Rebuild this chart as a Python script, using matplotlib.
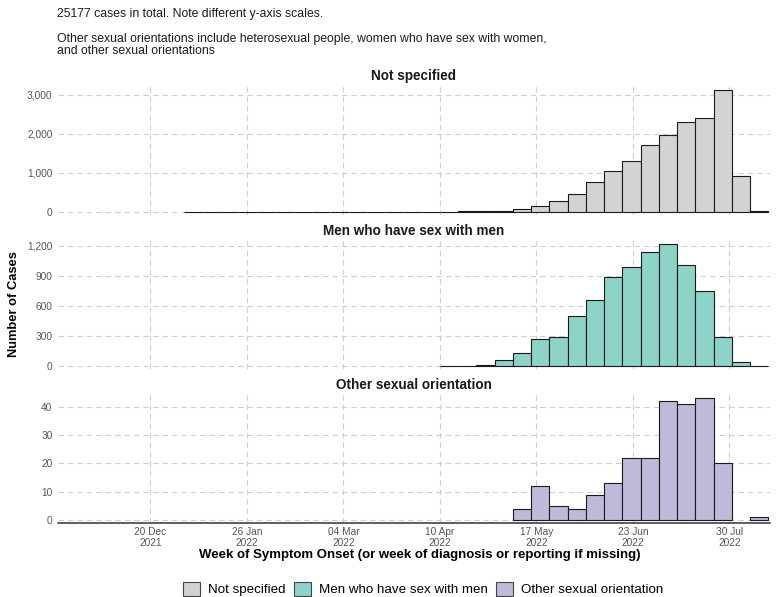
import numpy as np
import pandas as pd
import matplotlib
matplotlib.use('Agg')
import matplotlib.pyplot as plt
import matplotlib.dates as mdates
from matplotlib.patches import Patch

plt.rcParams['font.family'] = ['Liberation Sans', 'DejaVu Sans']

# ---------------- data ----------------
week_start = pd.date_range('2022-01-02', periods=32, freq='7D')  # Sunday-starting weeks

not_specified = [1, 0, 1, 0, 0, 1, 0, 0, 1, 0, 1, 0, 1, 2,
                 3, 5, 10, 25, 80, 150, 285, 450, 760, 1050, 1310, 1705,
                 1975, 2310, 2400, 3130, 925, 20]
msm = [None] * 14 + [1, 3, 10, 57, 133, 266, 289, 502, 661, 884, 987, 1140,
                     1216, 1007, 745, 286, 43, 1]
other = [None] * 18 + [4, 12, 5, 4, 9, 13, 22, 22, 42, 41, 43, 20, None, 1]

series_names = ['Not specified', 'Men who have sex with men', 'Other sexual orientation']
series_values = [not_specified, msm, other]
series_colors = ['#d3d3d3', '#8dd3c7', '#bebada']
y_ticks = [[0, 1000, 2000, 3000], [0, 300, 600, 900, 1200], [0, 10, 20, 30, 40]]
y_limits = [(-85, 3257), (-30, 1267), (-1.06, 44.84)]

x_tick_dates = ['2021-12-20', '2022-01-26', '2022-03-04', '2022-04-10',
                '2022-05-17', '2022-06-23', '2022-07-30']
x_limits = ('2021-11-14 14:00', '2022-08-14 14:00')

subtitle1 = '25177 cases in total. Note different y-axis scales.'
subtitle2 = 'Other sexual orientations include heterosexual people, women who have sex with women,'
subtitle3 = 'and other sexual orientations'

# ---------------- figure ----------------
W, H = 779, 597
fig = plt.figure(figsize=(W / 100, H / 100), dpi=100)

left_px, right_px = 58, 770
panels_px = [(85, 215), (239, 369), (393, 523)]
title_y_px = [76, 231, 385]

grid_kw = dict(color='#cfcfcf', linestyle=(0, (5, 3.5)), linewidth=0.8)
tick_color = '#555555'

xt = [mdates.date2num(pd.Timestamp(d)) for d in x_tick_dates]
xl = [mdates.date2num(pd.Timestamp(d)) for d in x_limits]

for i, (name, vals, col) in enumerate(zip(series_names, series_values, series_colors)):
    top, bot = panels_px[i]
    ax = fig.add_axes([left_px / W, 1 - bot / H, (right_px - left_px) / W, (bot - top) / H])
    xs = [mdates.date2num(d) for d, v in zip(week_start, vals) if v is not None]
    hs = [v for v in vals if v is not None]
    ax.bar(xs, hs, width=7, align='edge', color=col, edgecolor='#1a1a1a',
           linewidth=0.8, zorder=3)
    ax.set_xlim(*xl)
    ax.set_ylim(*y_limits[i])
    ax.set_yticks(y_ticks[i])
    ax.set_yticklabels([f'{v:,}' for v in y_ticks[i]])
    ax.set_xticks(xt)
    ax.grid(True, which='major', **grid_kw)
    ax.set_axisbelow(True)
    for s in ax.spines.values():
        s.set_visible(False)
    ax.tick_params(axis='both', length=0, labelsize=7.3, labelcolor=tick_color, pad=4)
    if i == 2:
        ax.set_xticklabels([pd.Timestamp(d).strftime('%d %b\n%Y') for d in x_tick_dates],
                           linespacing=1.15)
        ax.tick_params(axis='x', pad=3)
        ax.spines['bottom'].set_visible(True)
        ax.spines['bottom'].set_color('#333333')
        ax.spines['bottom'].set_linewidth(1.1)
    else:
        ax.set_xticklabels([])
    fig.text(414 / W, 1 - title_y_px[i] / H, name, ha='center', va='center',
             fontsize=9.75, fontweight='bold', color='#1a1a1a')

fig.text(57 / W, 1 - 14 / H, subtitle1, ha='left', va='center', fontsize=8.8, color='#1a1a1a')
fig.text(57 / W, 1 - 39 / H, subtitle2, ha='left', va='center', fontsize=8.8, color='#1a1a1a')
fig.text(57 / W, 1 - 51.5 / H, subtitle3, ha='left', va='center', fontsize=8.8, color='#1a1a1a')

fig.text(14 / W, 1 - 304 / H, 'Number of Cases', rotation=90, ha='center', va='center',
         fontsize=9.3, fontweight='bold', color='#000000')
fig.text(420 / W, 1 - 555 / H,
         'Week of Symptom Onset (or week of diagnosis or reporting if missing)',
         ha='center', va='center', fontsize=9.5, fontweight='bold', color='#000000')

handles = [Patch(facecolor=c, edgecolor='#444444', linewidth=0.8) for c in series_colors]
fig.legend(handles, series_names, loc='center', bbox_to_anchor=(423 / W, 1 - 589 / H),
           ncol=3, frameon=False, fontsize=9.6, handlelength=1.28, handleheight=1.28,
           handletextpad=0.6, columnspacing=0.6, borderpad=0, borderaxespad=0)

fig.savefig('out.png', dpi=100, facecolor='white')
